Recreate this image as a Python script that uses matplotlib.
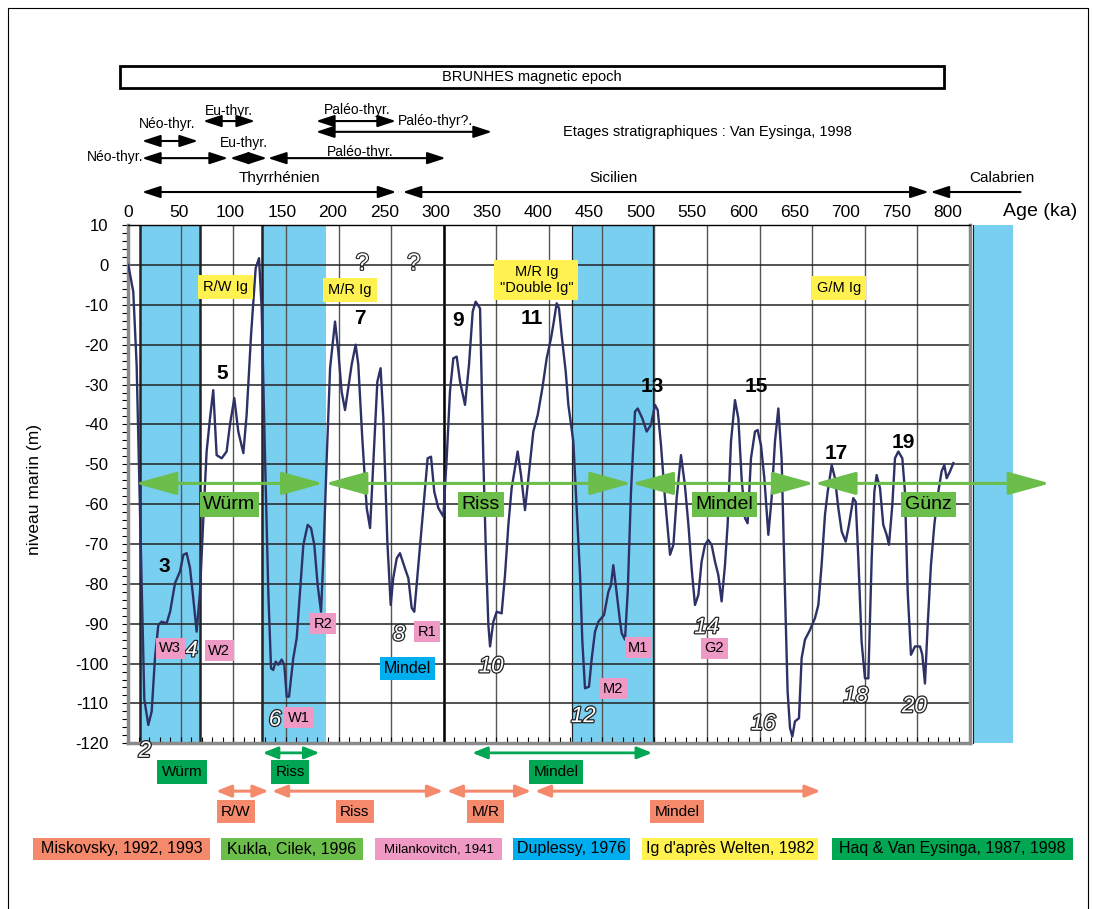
"""
Courbe du niveau marin sur 800 ka avec les etages glaciaires
"""

import matplotlib
matplotlib.use('Agg')
import matplotlib.pyplot as plt
import matplotlib.patheffects as pe
from matplotlib.patches import Rectangle, FancyArrowPatch
import numpy as np

plt.rcParams['font.family'] = ['Liberation Sans', 'DejaVu Sans']
plt.rcParams['axes.unicode_minus'] = False
NARROW = ['Liberation Sans Narrow', 'Liberation Sans', 'DejaVu Sans']

# courbe niveau marin : age (ka), niveau (m)
age = [0.3, 5, 8.2, 15.5, 19.3, 22.5, 25.6, 28.8, 32, 36.7, 40, 44.7, 49.4, 52.6, 55.7,
       58.9, 62, 65.2, 68.4, 71.6, 74.7, 77.9, 81, 84.2, 89, 93.7, 96.9, 101, 104.8,
       109.6, 112.7, 116.9, 121.3, 124.5, 127, 130.2, 133.3, 135.9, 138, 140.3, 142.8,
       146, 148.5, 150.8, 153, 157, 160.3, 163.4, 166.6, 170.7, 173.9, 177, 180.2,
       183.4, 185.6, 188.8, 192, 196.7, 199.8, 203, 206.2, 208.7, 212.5, 216.3, 218.8,
       222.6, 226.8, 230, 233, 236.9, 240, 242.6, 246.4, 249.6, 252, 255.3, 258.4, 263,
       266.4, 269.5, 272, 275.9, 280.6, 284.7, 287.9, 291, 294.9, 299.6, 302.8, 305.9,
       309.1, 312.3, 315.5, 320.2, 324, 327.5, 330.3, 334.5, 337.6, 340.2, 342.4, 344,
       347.1, 350.3, 355, 358.2, 361.4, 364.5, 370.2, 373.4, 377.2, 380.4, 385.1, 389.3,
       393.7, 397.8, 401.9, 404.1, 407.3, 409.5, 412, 415.9, 418.4, 423.1, 426.3, 429.5,
       431.7, 434.2, 438, 440.6, 443.7, 446.9, 452.3, 456.4, 458.9, 461.1, 463.4, 467.5,
       469.1, 472.2, 474.8, 477.9, 481.7, 484.3, 488.7, 492.8, 496.9, 500.7, 503.3,
       506.4, 510.2, 515, 518.2, 521.3, 525.4, 529, 532.4, 535.8, 538.7, 541.9, 545,
       548.2, 551.4, 554.5, 557.7, 560.9, 564, 567.2, 569.7, 572.9, 576.7, 579.9, 583,
       586.2, 588.7, 591.9, 595.7, 598.2, 601.4, 604.6, 608.4, 611.5, 614.7, 617.9, 621,
       624.2, 626.7, 629, 631.2, 633.7, 637.5, 640, 643.2, 647.9, 652.7, 655.9, 659,
       662.2, 664.8, 668.6, 671.7, 674.9, 678.1, 681.9, 685, 689.1, 691.4, 693.9, 697,
       700.2, 703.4, 706.6, 709.1, 711.3, 714.5, 717.6, 720.8, 723, 726.2, 728.7, 731.9,
       735.7, 738.2, 740.8, 743.9, 747.7, 752.5, 754.7, 757.2, 759.8, 762.9, 766.1,
       769.9, 773, 775.6, 777.8, 781, 784.2]
level = [0, -6.7, -25, -109, -115.4, -112, -98.7, -90.3, -89.5, -89.9, -87, -79.8, -76.9,
         -72.7, -72.3, -76, -83.6, -92, -82, -63.5, -46.8, -38.5, -31.4, -47.7, -48.5,
         -46.8, -40, -33.4, -41.8, -47.2, -37.6, -17.6, -0.8, 1.7, -10.9, -48.5, -82,
         -101.2, -101.6, -99.5, -100.3, -99, -100.3, -108.3, -108.3, -98.7, -93.6, -82,
         -70.2, -65.2, -66, -70.2, -80.3, -87, -73.6, -48.5, -25.9, -14.2, -21.7, -31.8,
         -36.4, -31.8, -25, -20, -25, -43.5, -61, -66, -50.2, -29.3, -25.9, -38.5, -69.4,
         -85.3, -78.6, -73.6, -72.3, -76, -78.6, -86, -87, -75.3, -61, -48.5, -48.1,
         -56.9, -61, -63.1, -48.5, -31.8, -23.4, -23, -29.3, -35.1, -25, -11.7, -9.2,
         -10.9, -48.5, -73.6, -90.3, -95.7, -89.5, -87, -87.4, -77.8, -65.2, -56, -46.8,
         -52.7, -61.5, -53.5, -41.8, -37.6, -30.9, -23.4, -18.4, -15, -9.6, -10.9, -17.6,
         -26.8, -35.1, -44.3, -61, -77.8, -94.5, -106.2, -105.8, -98.7, -92, -89.5, -87.8,
         -82, -80.3, -75.3, -80.3, -89.5, -92.4, -94, -82, -56.9, -36.8, -36, -38.5,
         -41.8, -40.1, -35.1, -36.4, -45.2, -58.5, -72.7, -70.2, -58.5, -47.7, -55, -65,
         -77, -85.3, -82.8, -74.4, -70.2, -69, -70.2, -74.4, -77.8, -84.4, -75.3, -65.2,
         -44.3, -33.9, -38.5, -53.5, -63.5, -64.8, -48.5, -41.8, -41.4, -45.2, -53.5,
         -67.7, -58.5, -44.3, -36, -48.5, -82, -107, -116.2, -118.3, -114.5, -113.7,
         -98.7, -94, -91.6, -88.6, -85.3, -75.3, -62.7, -56.9, -50.2, -53.5, -61, -66.9,
         -69.4, -65.2, -58.5, -59.4, -73.6, -94.5, -103.7, -103.7, -73.6, -56.9, -52.7,
         -56, -65.2, -67.7, -70.2, -60.2, -48.5, -46.8, -48.5, -56.9, -82, -97.8, -95.7,
         -95.7, -97.8, -105, -90.3, -75.3, -65.2, -56.9, -51.8, -50.2, -53.5, -51.8, -49.7]

# bandes bleues (Duplessy, 1976)
band_start = [11, 127, 422, 803]
band_end = [68, 188, 499, 841]

# Kukla, Cilek 1996 (fleches vertes)
kukla_names = ['Würm', 'Riss', 'Mindel', 'Günz']
kukla_start = [6.7, 187.2, 478.5, 652]
kukla_end = [185.6, 478.5, 652, 876]
kukla_label_x = [96.4, 335.2, 566.7, 760.4]
kukla_y = -54.8

# Haq & Van Eysinga (vert fonce, sous le graphe)
haq_names = ['Würm', 'Riss', 'Mindel']
haq_label_x = [51.3, 154, 406.7]
haq_arrow_start = [128, 327]
haq_arrow_end = [182, 498]

# Miskovsky 1992, 1993 (saumon)
misk_names = ['R/W', 'Riss', 'M/R', 'Mindel']
misk_start = [83.6, 136.8, 303, 386.7]
misk_end = [133.5, 299.3, 383, 658]
misk_label_x = [102.6, 215.6, 339.7, 521.6]

# stades isotopiques
odd_stage = ['3', '5', '7', '9', '11', '13', '15', '17', '19']
odd_x = [34.5, 89.6, 220.4, 313.2, 383.5, 498, 596.7, 673.3, 736.6]
odd_y = [-75.7, -27.2, -13.5, -14, -13.5, -30.4, -30.4, -47.2, -44.5]
even_stage = ['2', '4', '6', '8', '10', '12', '14', '16', '18', '20']
even_x = [16, 60.5, 139.7, 257.5, 345, 432.6, 549.8, 603.6, 691.4, 747.1]
even_y = [-122, -96.8, -114.2, -92.8, -100.8, -113.3, -91, -115.2, -108.3, -110.8]

# Milankovitch 1941 (rose)
milank_names = ['W3', 'W2', 'R2', 'W1', 'R1', 'M1', 'M2', 'G2']
milank_x = [40.2, 86.6, 185.4, 162, 284.3, 484.9, 461, 557]
milank_y = [-96.2, -96.8, -90, -113.6, -92, -96, -106.3, -96.2]

# Ig d'apres Welten 1982 (jaune)
welten_names = ['R/W Ig', 'M/R Ig', 'M/R Ig\n"Double Ig"', 'G/M Ig']
welten_x = [93, 211, 388, 675.5]
welten_y = [-5.6, -6.3, -3.8, -5.7]

# etages stratigraphiques (Van Eysinga, 1998)
stage_arrow_start = [13.3, 71.3, 178.6, 178.6, 13.3, 97, 133, 13.3, 261]
stage_arrow_end = [66.5, 120.7, 254.6, 345.8, 95, 132, 301.8, 255, 760.8]
stage_arrow_y = [31.1, 36.1, 36.1, 33.4, 26.8, 26.8, 26.8, 18.3, 18.3]
stage_names = ['Néo-thyr.', 'Eu-thyr.', 'Paléo-thyr.', 'Néo-thyr.', 'Eu-thyr.',
               'Paléo-thyr.', 'Thyrrhénien', 'Sicilien', 'Calabrien']
stage_x = [37, 96, 217.6, -12.4, 110, 220.4, 143.5, 460.8, 830.4]
stage_y = [35.4, 38.5, 38.9, 27.2, 30.5, 28.4, 21.8, 21.8, 21.8]

age_ticks = list(range(0, 801, 50))

legend_names = ['Miskovsky, 1992, 1993', 'Kukla, Cilek, 1996', 'Milankovitch, 1941',
                'Duplessy, 1976', "Ig d'après Welten, 1982", 'Haq & Van Eysinga, 1987, 1998']

C_CURVE = '#2d3166'
C_BAND = '#78cff0'
C_KUKLA = '#6bbe4a'
C_HAQ = '#00a651'
C_MISK = '#f4896b'
C_MILANK = '#ee9ac5'
C_DUPL = '#00aeef'
C_WELTEN = '#fff250'


def arrow(ax, x0, x1, y, color, lw, hl, hw, style='<|-|>'):
    a = FancyArrowPatch((x0, y), (x1, y),
                        arrowstyle='{},head_length={},head_width={}'.format(style, hl, hw),
                        mutation_scale=1, color=color, lw=lw, shrinkA=0, shrinkB=0,
                        clip_on=False, zorder=6)
    ax.add_patch(a)


def label_box(ax, x, y, s, fc, fs, family=None, pad=0.2):
    ax.text(x, y, s, ha='center', va='center', fontsize=fs, zorder=8, clip_on=False,
            family=family if family else plt.rcParams['font.family'],
            bbox=dict(boxstyle='square,pad={}'.format(pad), fc=fc, ec='none'))


def sea_level_viz(save_path):
    W, H = 1093, 909
    fig = plt.figure(figsize=(W / 100, H / 100), dpi=100)
    ax = fig.add_axes([128 / W, 1 - 743.3 / H, 842 / W, 518.2 / H])
    ax.set_xlim(0, 800)
    ax.set_ylim(-120, 10)

    # bandes froides
    for s, e in zip(band_start, band_end):
        ax.add_patch(Rectangle((s, -120), e - s, 130, fc=C_BAND, ec='none', zorder=0,
                               clip_on=False))

    # grille
    ax.set_yticks(np.arange(-120, 11, 10))
    ax.set_yticks(np.arange(-120, 11, 2), minor=True)
    ax.grid(axis='y', which='major', color='#222222', lw=1.1, zorder=1)
    for xg in range(50, 800, 50):
        ax.axvline(xg, color='#555555', lw=1.0, zorder=1)
    ax.axvline(300, color='black', lw=1.8, zorder=1)
    for xb in [11, 68, 127]:
        ax.axvline(xb, color='#222222', lw=1.8, zorder=1)
    for xb in [422, 499]:
        ax.axvline(xb, color='#222222', lw=0.9, zorder=1)

    ax.plot(age, level, color=C_CURVE, lw=1.7, zorder=4)

    ax.set_xticks(np.arange(0, 801, 10))
    ax.tick_params(axis='x', which='both', bottom=False, top=True, labelbottom=False,
                   direction='in', length=4, width=0.8)
    ax.tick_params(axis='y', which='both', direction='out', length=4.3, width=0.8,
                   labelsize=12, pad=10)
    for sp in ['left', 'bottom', 'right']:
        ax.spines[sp].set_color('#8a8a8a')
        ax.spines[sp].set_linewidth(2.5)
    ax.spines['top'].set_linewidth(1.0)
    ax.set_ylabel('niveau marin (m)', fontsize=12.5)
    ax.yaxis.set_label_coords(-0.102, 0.489)

    # echelle des ages en haut
    ax_top = ax.twiny()
    ax_top.set_xlim(4.85, 821.3)
    ax_top.set_xticks(age_ticks)
    ax_top.tick_params(axis='x', length=0, labelsize=12.5, pad=4)
    for sp in ax_top.spines.values():
        sp.set_visible(False)
    ax.text(866.5, 13.3, 'Age (ka)', fontsize=14, ha='center', va='center', clip_on=False)

    # bande Calabrien hors cadre
    ax.axvline(803, ymin=0, ymax=1, color='#222222', lw=0.8, clip_on=False, zorder=1)

    # fleches vertes Kukla
    for s, e in zip(kukla_start, kukla_end):
        arrow(ax, s, e, kukla_y, C_KUKLA, 2.2, 26, 7.2)
    for n, x in zip(kukla_names, kukla_label_x):
        label_box(ax, x, -60, n, C_KUKLA, 14, pad=0.2)

    # nombres de stades
    for n, x, y in zip(odd_stage, odd_x, odd_y):
        ax.text(x, y, n, fontsize=15, fontweight='bold', ha='center', va='center', zorder=7)
    for n, x, y in zip(even_stage, even_x, even_y):
        ax.text(x, y, n, fontsize=16, style='italic', ha='center', va='center', zorder=7,
                color='white', clip_on=False,
                path_effects=[pe.withStroke(linewidth=1.8, foreground='#222222')])
    for x in [222.6, 271.5]:
        ax.text(x, 0.3, '?', fontsize=17, ha='center', va='center', zorder=7,
                color='white', path_effects=[pe.withStroke(linewidth=1.6, foreground='#222222')])

    for n, x, y in zip(milank_names, milank_x, milank_y):
        label_box(ax, x, y, n, C_MILANK, 10.5, pad=0.25)
    for n, x, y in zip(welten_names, welten_x, welten_y):
        label_box(ax, x, y, n, C_WELTEN, 10.5, pad=0.35)
    label_box(ax, 265.6, -101.3, 'Mindel', C_DUPL, 11.5, pad=0.25)

    # sous le graphe
    for s, e in zip(haq_arrow_start, haq_arrow_end):
        arrow(ax, s, e, -122.4, C_HAQ, 2.0, 9, 3.6)
    for n, x in zip(haq_names, haq_label_x):
        label_box(ax, x, -127.2, n, C_HAQ, 11, family=NARROW, pad=0.3)
    for s, e in zip(misk_start, misk_end):
        arrow(ax, s, e, -132, C_MISK, 2.2, 9, 3.6)
    for n, x in zip(misk_names, misk_label_x):
        label_box(ax, x, -137.2, n, C_MISK, 11, family=NARROW, pad=0.3)

    # etages stratigraphiques au-dessus
    for s, e, y in zip(stage_arrow_start, stage_arrow_end, stage_arrow_y):
        arrow(ax, s, e, y, 'black', 1.5, 11, 3.6)
    arrow(ax, 762.5, 848, 18.3, 'black', 1.5, 11, 3.6, style='<|-')
    for n, x, y in zip(stage_names, stage_x, stage_y):
        fs = 11 if y < 25 else 10
        ax.text(x, y, n, fontsize=fs, ha='center', va='center', clip_on=False)
    ax.text(256.5, 36, 'Paléo-thyr?.', fontsize=10, ha='left', va='center', clip_on=False)
    ax.text(413.3, 33.4, 'Etages stratigraphiques : Van Eysinga, 1998', fontsize=10.5,
            ha='left', va='center', clip_on=False)

    ax.add_patch(Rectangle((-7.6, 44.4), 782.9, 5.5, fc='white', ec='black', lw=2,
                           clip_on=False, zorder=5))
    ax.text(383.8, 47.2, 'BRUNHES magnetic epoch', fontsize=10.5, ha='center',
            va='center', clip_on=False, zorder=6)

    # legende en bas
    legend_colors = [C_MISK, C_KUKLA, C_MILANK, C_DUPL, C_WELTEN, C_HAQ]
    legend_left = [33, 221, 375, 513, 642, 832]
    legend_right = [210, 363, 502, 630, 818, 1073]
    for n, c, l, r in zip(legend_names, legend_colors, legend_left, legend_right):
        fig.patches.append(Rectangle((l / W, 1 - 860 / H), (r - l) / W, 22 / H, fc=c,
                                     ec='none', transform=fig.transFigure, figure=fig))
        fs = 9.5 if n.startswith('Milank') else 11.5
        fig.text((l + r) / 2 / W, 1 - 849 / H, n, fontsize=fs, family=NARROW,
                 ha='center', va='center')

    # cadre de la figure
    fx = [8 / W, 8 / W, 1088 / W, 1088 / W]
    fy = [0, 1 - 8 / H, 1 - 8 / H, 0]
    fig.add_artist(plt.Line2D(fx, fy, transform=fig.transFigure, color='black', lw=0.8))

    fig.savefig(save_path, dpi=100)
    print("Figure has been saved to: ", save_path)


if __name__ == '__main__':
    sea_level_viz('out.png')
